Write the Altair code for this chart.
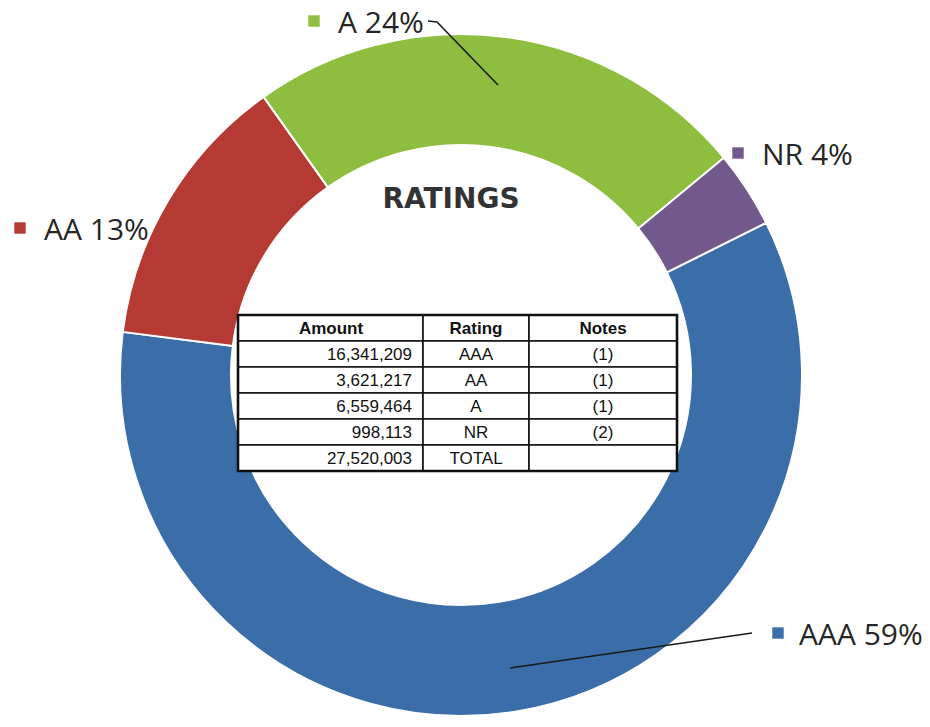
import math
import altair as alt
import pandas as pd

# ---------------- data ----------------
ratings = ["AAA", "AA", "A", "NR"]
amounts = [16341209, 3621217, 6559464, 998113]
notes = ["(1)", "(1)", "(1)", "(2)"]
total_amount = 27520003
percents = [59, 13, 24, 4]
title_text = "RATINGS"
header = ["Amount", "Rating", "Notes"]
total_label = "TOTAL"

# ---------------- styles / layout (page pixel coords) ----------------
colors = ["#3b6ea9", "#b53a33", "#8dbe3f", "#72598c"]
M = 8                      # page margin
W, H = 914, 711
CX, CY = 461, 375
R_OUT, R_IN = 341, 230
START_DEG = 63.5

# square centre (x, y) and text start x, baseline y
label_layout = {
    "AAA": (778, 633, 799, 645),
    "AA": (20, 228, 44, 240),
    "A": (314, 21, 338, 33),
    "NR": (738, 153, 762, 165),
}
leader_layout = {
    "A": [(428, 21), (437, 22), (498, 85)],
    "AAA": [(752, 633), (510, 668)],
}
TBL_X = [238, 423, 529, 677]
TBL_Y0, ROW_H = 315, 26
AMT_RIGHT, RATING_CX, NOTES_CX, AMT_HDR_CX = 412, 476, 603, 331

color_scale = alt.Scale(domain=ratings, range=colors)

# ---------------- donut ----------------
pie_df = pd.DataFrame({"rating": ratings, "amount": amounts, "order": list(range(len(ratings)))})
start = math.radians(START_DEG)
arc = alt.Chart(pie_df).mark_arc(
    outerRadius=R_OUT, innerRadius=R_IN, stroke="white", strokeWidth=2
).encode(
    theta=alt.Theta("amount:Q", stack=True, scale=alt.Scale(range=[start, start + 2 * math.pi])),
    order=alt.Order("order:Q"),
    color=alt.Color("rating:N", scale=color_scale, legend=None),
    x=alt.value(CX - M),
    y=alt.value(CY - M),
)

# ---------------- labels ----------------
lab_rows = []
for r, p in zip(ratings, percents):
    sx, sy, tx, ty = label_layout[r]
    lab_rows.append({"rating": r, "label": f"{r} {p}%", "sx": sx - M, "sy": sy - M, "tx": tx - M, "ty": ty - M})
lab_df = pd.DataFrame(lab_rows)

squares = alt.Chart(lab_df).mark_square(size=130, opacity=1).encode(
    x=alt.X("sx:Q", scale=None, axis=None),
    y=alt.Y("sy:Q", scale=None, axis=None),
    color=alt.Color("rating:N", scale=color_scale, legend=None),
)
labels = alt.Chart(lab_df).mark_text(
    font="Open Sans", fontSize=30, align="left", baseline="alphabetic", color="#262626"
).encode(
    x=alt.X("tx:Q", scale=None, axis=None),
    y=alt.Y("ty:Q", scale=None, axis=None),
    text="label:N",
)

lead_rows = []
for r, pts in leader_layout.items():
    for i, (px, py) in enumerate(pts):
        lead_rows.append({"rating": r, "pt": i, "lx": px - M, "ly": py - M})
lead_df = pd.DataFrame(lead_rows)
leaders = alt.Chart(lead_df).mark_line(color="#1a1a1a", strokeWidth=1.6).encode(
    x=alt.X("lx:Q", scale=None, axis=None),
    y=alt.Y("ly:Q", scale=None, axis=None),
    detail="rating:N",
    order="pt:Q",
)

# ---------------- title ----------------
title = alt.Chart(pd.DataFrame({"t": [title_text]})).mark_text(
    font="DejaVu Sans", fontWeight="bold", fontSize=28, color="#333333",
    align="center", baseline="alphabetic",
).encode(text="t:N", x=alt.value(451 - M), y=alt.value(208 - M))

# ---------------- table ----------------
amount_col = [f"{a:,}" for a in amounts] + [f"{total_amount:,}"]
rating_col = ratings + [total_label]
notes_col = notes + [""]
n_rows = len(amount_col) + 1

cell_rows = []
for r in range(n_rows):
    for c in range(3):
        cell_rows.append({
            "x0": TBL_X[c] - M, "x1": TBL_X[c + 1] - M,
            "y0": TBL_Y0 + r * ROW_H - M, "y1": TBL_Y0 + (r + 1) * ROW_H - M,
        })
cell_df = pd.DataFrame(cell_rows)
cells = alt.Chart(cell_df).mark_rect(fill="white", stroke="#111111", strokeWidth=1.6).encode(
    x=alt.X("x0:Q", scale=None, axis=None), x2="x1:Q",
    y=alt.Y("y0:Q", scale=None, axis=None), y2="y1:Q",
)
border_df = pd.DataFrame([{
    "x0": TBL_X[0] - M, "x1": TBL_X[-1] - M,
    "y0": TBL_Y0 - M, "y1": TBL_Y0 + n_rows * ROW_H - M,
}])
border = alt.Chart(border_df).mark_rect(fillOpacity=0, stroke="#111111", strokeWidth=2.6).encode(
    x=alt.X("x0:Q", scale=None, axis=None), x2="x1:Q",
    y=alt.Y("y0:Q", scale=None, axis=None), y2="y1:Q",
)

def row_y(i):
    return TBL_Y0 + (i + 0.5) * ROW_H + 1 - M

hdr_df = pd.DataFrame({
    "text": header,
    "x": [AMT_HDR_CX - M, RATING_CX - M, NOTES_CX - M],
    "y": [row_y(0)] * 3,
})
hdr = alt.Chart(hdr_df).mark_text(
    font="Liberation Sans", fontSize=17, fontWeight="bold", align="center", baseline="middle", color="#111111"
).encode(x=alt.X("x:Q", scale=None, axis=None), y=alt.Y("y:Q", scale=None, axis=None), text="text:N")

amt_df = pd.DataFrame({"text": amount_col, "x": [AMT_RIGHT - M] * len(amount_col),
                       "y": [row_y(i + 1) for i in range(len(amount_col))]})
amt = alt.Chart(amt_df).mark_text(
    font="Liberation Sans", fontSize=17, align="right", baseline="middle", color="#111111"
).encode(x=alt.X("x:Q", scale=None, axis=None), y=alt.Y("y:Q", scale=None, axis=None), text="text:N")

ctr_rows = []
for i, (rt, nt) in enumerate(zip(rating_col, notes_col)):
    ctr_rows.append({"text": rt, "x": RATING_CX - M, "y": row_y(i + 1)})
    if nt:
        ctr_rows.append({"text": nt, "x": NOTES_CX - M, "y": row_y(i + 1)})
ctr_df = pd.DataFrame(ctr_rows)
ctr = alt.Chart(ctr_df).mark_text(
    font="Liberation Sans", fontSize=17, align="center", baseline="middle", color="#111111"
).encode(x=alt.X("x:Q", scale=None, axis=None), y=alt.Y("y:Q", scale=None, axis=None), text="text:N")

chart = alt.layer(
    arc, leaders, squares, labels, title, cells, border, hdr, amt, ctr
).properties(
    width=W, height=H, padding=0, autosize=alt.AutoSizeParams(type="none"), background="white"
).configure_view(stroke=None)

chart.save("out.html", embed_options={"renderer": "svg", "actions": False})
